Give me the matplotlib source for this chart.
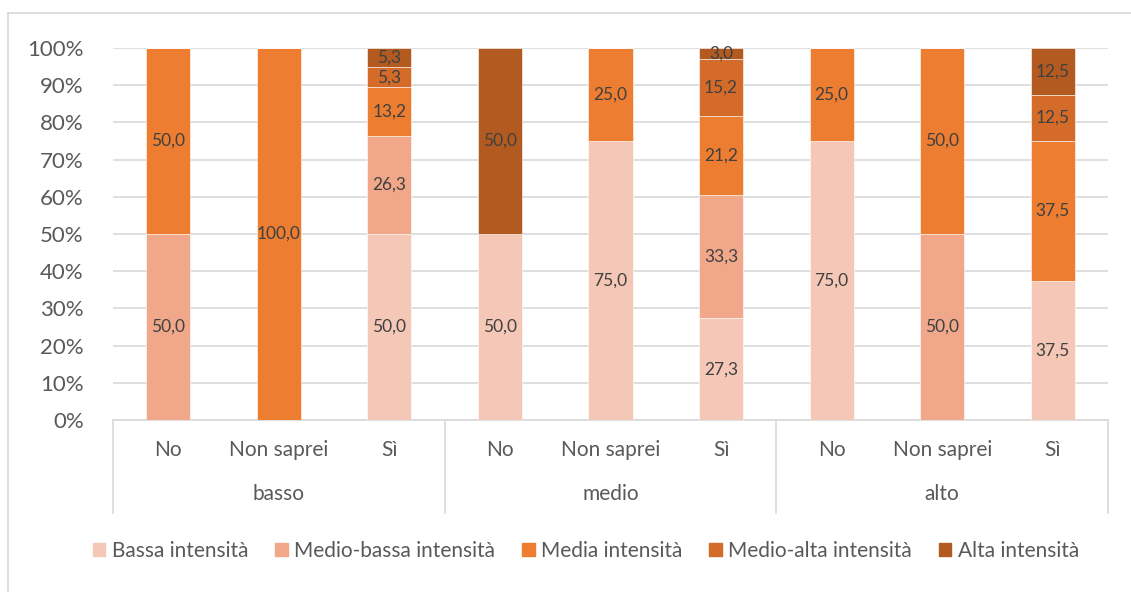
import numpy as np
import matplotlib
matplotlib.use('Agg')
import matplotlib.pyplot as plt
from matplotlib.patches import Rectangle
from matplotlib.lines import Line2D

plt.rcParams['font.family'] = ['Lato', 'DejaVu Sans']

# data
groups = ["basso", "medio", "alto"]
answers = ["No", "Non saprei", "Sì"]
series = ["Bassa intensità", "Medio-bassa intensità", "Media intensità",
          "Medio-alta intensità", "Alta intensità"]

bassa       = [0, 0, 50.0,   50.0, 75.0, 27.3,   75.0, 0, 37.5]
medio_bassa = [50.0, 0, 26.3, 0, 0, 33.3,        0, 50.0, 0]
media       = [50.0, 100.0, 13.2, 0, 25.0, 21.2, 25.0, 50.0, 37.5]
medio_alta  = [0, 0, 5.3,    0, 0, 15.2,         0, 0, 12.5]
alta        = [0, 0, 5.3,    50.0, 0, 3.0,       0, 0, 12.5]

colors = ["#F5C7B6", "#F1A88A", "#ED7D31", "#D46B29", "#B35A20"]
TEXT = "#404040"
LABEL = "#595959"
GRID = "#D9D9D9"

fig = plt.figure(figsize=(11.31, 5.92), dpi=100)
W, H = 1131, 592
ax = fig.add_axes([113 / W, 1 - 420 / H, (1108 - 113) / W, (420 - 48) / H])

x = np.arange(9)
bottom = np.zeros(9)
for vals, col, name in zip([bassa, medio_bassa, media, medio_alta, alta], colors, series):
    vals = np.array(vals)
    ax.bar(x, vals, 0.4, bottom=bottom, color=col, label=name,
           edgecolor="white", linewidth=0.4, zorder=3)
    for xi, b, v in zip(x, bottom, vals):
        if v > 0:
            ax.text(xi, b + v / 2, f"{v:.1f}".replace(".", ","),
                    ha="center", va="center", fontsize=12.5, color=TEXT, zorder=4)
    bottom += vals

ax.set_xlim(-0.5, 8.5)
ax.set_ylim(0, 100)
ax.set_yticks(np.arange(0, 101, 10))
ax.set_yticklabels([f"{v}%" for v in range(0, 101, 10)], fontsize=16, color=LABEL)
ax.yaxis.grid(True, color=GRID, linewidth=1.2, zorder=0)
ax.tick_params(axis="y", length=0, pad=21)
ax.set_xticks([])
for s in ["top", "right", "left"]:
    ax.spines[s].set_visible(False)
ax.spines["bottom"].set_color(GRID)
ax.spines["bottom"].set_linewidth(1.2)

# two-level category axis
trans = ax.get_xaxis_transform()
for i in range(9):
    ax.text(x[i], -0.08, answers[i % 3], transform=trans,
            ha="center", va="center", fontsize=15, color=LABEL)
for g, name in enumerate(groups):
    ax.text(3 * g + 1, -0.2, name, transform=trans,
            ha="center", va="center", fontsize=15, color=LABEL)
for xs in [-0.5, 2.5, 5.5, 8.5]:
    ax.add_line(Line2D([xs, xs], [0, -93 / 372], transform=trans, color=GRID,
                       linewidth=1.2, clip_on=False))

# legend
handles = [Rectangle((0, 0), 1, 1, color=c) for c in colors]
fig.legend(handles, series, loc="center", bbox_to_anchor=(0.518, 1 - 551 / H),
           ncol=5, frameon=False, fontsize=15, labelcolor=LABEL,
           handlelength=0.6, handleheight=0.6, handletextpad=0.3, columnspacing=1.3)

# chart frame
fig.add_artist(Line2D([8 / W, 8 / W], [0, 1 - 13 / H], color=GRID, linewidth=1.2))
fig.add_artist(Line2D([8 / W, 1], [1 - 13 / H, 1 - 13 / H], color=GRID, linewidth=1.2))

fig.savefig("out.png", dpi=100, facecolor="white")
